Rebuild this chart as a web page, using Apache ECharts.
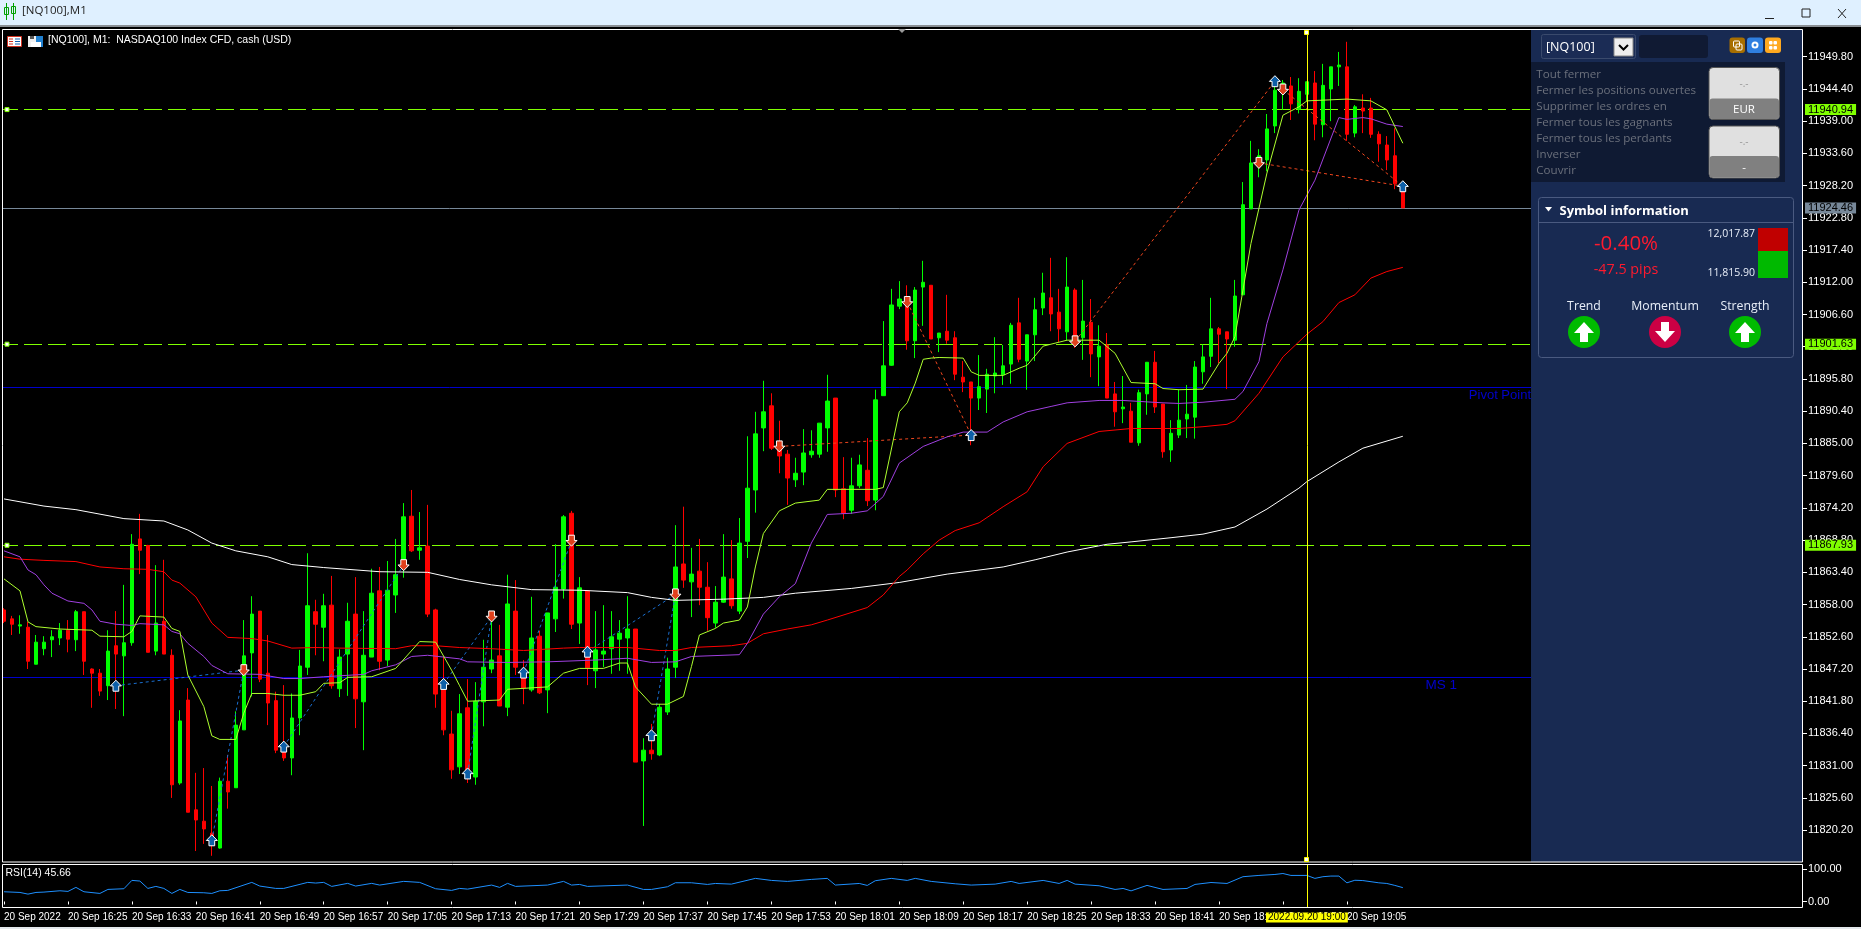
<!DOCTYPE html>
<html>
<head>
<meta charset="utf-8">
<style>html,body{margin:0;padding:0;background:#000;overflow:hidden}#c{width:1861px;height:929px}</style>
<script src="https://cdn.jsdelivr.net/npm/echarts@6/dist/echarts.min.js"></script>
</head>
<body>
<div id="c"></div>
<script>
const tickLabels = ['20 Sep 2022','20 Sep 16:25','20 Sep 16:33','20 Sep 16:41','20 Sep 16:49','20 Sep 16:57','20 Sep 17:05','20 Sep 17:13','20 Sep 17:21','20 Sep 17:29','20 Sep 17:37','20 Sep 17:45','20 Sep 17:53','20 Sep 18:01','20 Sep 18:09','20 Sep 18:17','20 Sep 18:25','20 Sep 18:33','20 Sep 18:41','20 Sep 18:49','20 Sep 18:57','20 Sep 19:05'];
const priceTicks = [11949.8,11944.4,11939.0,11933.6,11928.2,11922.8,11917.4,11912.0,11906.6,11901.2,11895.8,11890.4,11885.0,11879.6,11874.2,11868.8,11863.4,11858.0,11852.6,11847.2,11841.8,11836.4,11831.0,11825.6,11820.2];
const rsiTicks = [0,100];

const opens = [11857.1,11855.6,11854.4,11854.2,11848.0,11850.6,11852.1,11852.4,11853.7,11852.1,
11856.8,11847.2,11846.5,11844.4,11851.1,11849.4,11851.6,11869.0,11867.9,11850.2,
11855.2,11849.5,11828.1,11842.0,11823.6,11821.7,11819.7,11817.2,11828.4,11827.3,
11837.0,11849.9,11856.9,11846.5,11841.9,11833.6,11832.3,11839.0,11847.5,11856.8,
11854.2,11857.9,11843.9,11849.7,11856.4,11841.7,11849.2,11860.3,11848.7,11859.6,
11864.6,11872.8,11867.1,11867.8,11857.1,11843.7,11836.3,11830.8,11840.7,11829.1,
11841.7,11847.2,11849.4,11840.8,11856.9,11847.0,11843.7,11852.7,11843.7,11855.6,
11860.6,11873.3,11854.9,11860.3,11846.9,11849.7,11850.6,11852.2,11852.4,11853.9,
11831.8,11833.6,11832.8,11840.0,11847.5,11864.8,11861.8,11863.6,11860.9,11854.9,
11858.4,11862.3,11856.9,11868.6,11877.2,11887.6,11891.3,11884.7,11883.2,11878.9,
11880.2,11883.1,11883.2,11887.6,11892.6,11877.4,11873.8,11877.9,11880.5,11875.5,
11893.0,11898.1,11908.0,11909.1,11902.2,11911.2,11911.5,11902.7,11903.8,11902.7,
11896.1,11895.3,11892.6,11894.1,11896.3,11896.5,11898.3,11905.2,11898.8,11903.2,
11907.7,11909.4,11907.0,11903.7,11910.7,11902.7,11905.3,11899.5,11901.5,11893.3,
11890.8,11890.4,11885.1,11893.3,11898.6,11891.6,11883.9,11886.4,11889.1,11889.4,
11897.0,11899.6,11904.2,11903.7,11902.3,11909.9,11924.3,11931.6,11932.5,11938.2,
11943.7,11944.9,11941.0,11943.5,11945.4,11938.4,11944.4,11948.1,11948.1,11937.0,
11941.2,11941.2,11936.8,11935.0,11933.2,11927.6];
const closes = [11855.2,11854.7,11854.6,11848.5,11851.7,11851.7,11852.6,11853.7,11852.2,11856.8,
11848.5,11846.5,11843.5,11850.2,11849.7,11851.6,11868.1,11867.1,11850.0,11854.9,
11849.7,11827.8,11838.5,11823.2,11821.9,11820.4,11817.7,11828.4,11826.6,11837.8,
11849.4,11856.4,11845.5,11841.5,11833.6,11832.3,11839.0,11847.7,11857.8,11854.7,
11857.8,11844.4,11849.2,11855.2,11842.2,11849.5,11859.9,11848.5,11860.4,11863.0,
11872.7,11867.0,11867.5,11856.4,11843.0,11837.0,11830.3,11839.7,11829.4,11841.8,
11847.5,11848.7,11841.0,11858.1,11847.5,11844.0,11852.4,11843.2,11856.6,11860.9,
11872.7,11854.7,11860.8,11847.4,11850.4,11850.2,11852.6,11853.2,11853.9,11831.6,
11833.6,11833.0,11840.8,11847.2,11864.3,11862.1,11863.1,11860.9,11855.8,11858.4,
11862.6,11857.8,11868.3,11877.5,11886.6,11890.3,11884.2,11882.9,11879.2,11880.0,
11883.4,11883.7,11888.4,11892.1,11877.2,11873.3,11877.9,11881.4,11875.4,11892.3,
11898.0,11908.2,11909.2,11902.2,11910.7,11912.0,11902.5,11903.5,11902.3,11896.6,
11895.3,11892.6,11894.5,11896.6,11896.8,11898.0,11904.8,11899.1,11903.2,11907.4,
11910.2,11906.7,11904.2,11911.2,11902.8,11905.5,11900.0,11901.3,11892.6,11890.3,
11891.1,11885.2,11893.5,11898.6,11891.1,11883.6,11886.7,11888.9,11889.9,11897.8,
11899.5,11904.2,11903.3,11902.5,11909.7,11925.0,11932.0,11933.2,11937.7,11944.2,
11945.4,11941.9,11944.0,11945.6,11938.5,11945.0,11948.1,11948.4,11936.8,11941.4,
11940.7,11936.8,11935.2,11932.5,11928.5,11924.46];
const highs = [11857.4,11856.1,11856.2,11855.1,11852.9,11852.7,11853.7,11854.9,11855.4,11857.1,
11856.8,11847.3,11847.2,11853.7,11856.9,11861.3,11869.8,11873.2,11868.0,11864.6,
11865.5,11850.5,11840.3,11844.0,11829.8,11830.6,11827.6,11829.0,11832.8,11840.1,
11855.4,11859.4,11856.9,11852.9,11843.4,11844.5,11843.1,11850.4,11866.6,11858.8,
11859.8,11862.8,11850.5,11858.3,11862.6,11856.9,11864.0,11864.3,11865.3,11869.0,
11875.0,11877.2,11873.5,11874.7,11857.3,11849.3,11840.2,11843.0,11845.5,11845.0,
11852.1,11856.2,11854.6,11863.0,11862.1,11848.7,11859.3,11853.6,11856.6,11868.1,
11873.0,11873.7,11862.6,11860.4,11856.9,11857.9,11856.9,11855.4,11859.4,11853.9,
11835.6,11838.0,11841.3,11849.1,11871.3,11874.4,11867.5,11869.0,11865.1,11861.1,
11869.8,11868.8,11872.5,11886.2,11890.3,11895.5,11893.4,11888.8,11883.9,11882.6,
11887.4,11887.2,11888.4,11896.5,11892.6,11882.7,11882.6,11883.1,11885.9,11894.0,
11905.5,11910.9,11912.2,11911.5,11911.2,11915.6,11911.5,11903.5,11909.9,11903.8,
11898.8,11895.3,11899.8,11897.5,11902.8,11901.5,11905.2,11909.4,11903.2,11909.4,
11913.6,11916.1,11910.9,11916.2,11911.0,11912.4,11909.2,11904.8,11903.5,11895.3,
11896.3,11891.8,11894.0,11898.6,11900.5,11891.6,11888.9,11894.0,11894.8,11898.8,
11901.6,11909.4,11904.5,11903.7,11912.4,11928.8,11935.7,11934.3,11940.2,11945.9,
11945.9,11946.4,11946.2,11945.6,11947.4,11948.6,11948.1,11950.6,11952.3,11941.7,
11943.5,11942.9,11937.3,11936.5,11937.8,11928.6];
const lows = [11854.9,11852.9,11853.1,11847.2,11848.0,11849.5,11849.2,11851.2,11850.0,11850.2,
11846.2,11840.7,11842.7,11842.0,11840.5,11839.3,11851.1,11863.1,11850.0,11849.5,
11849.7,11825.6,11827.8,11823.2,11816.7,11817.9,11815.9,11817.1,11823.8,11827.3,
11837.0,11842.6,11845.0,11837.8,11833.1,11831.8,11829.4,11836.1,11846.2,11849.5,
11848.5,11843.9,11842.5,11842.7,11837.3,11833.6,11849.2,11847.0,11847.7,11856.6,
11862.5,11866.8,11865.5,11855.9,11840.7,11836.1,11828.8,11829.6,11828.1,11827.8,
11837.6,11846.5,11841.0,11839.3,11846.2,11841.3,11843.4,11843.0,11839.8,11853.4,
11859.0,11853.9,11851.4,11844.5,11844.0,11847.5,11846.4,11846.9,11846.4,11831.6,
11820.9,11832.0,11832.6,11839.5,11845.7,11860.8,11855.9,11857.9,11853.6,11854.1,
11858.3,11857.3,11856.4,11865.8,11873.4,11883.7,11883.9,11880.0,11874.7,11877.7,
11878.0,11882.6,11882.6,11883.6,11876.0,11872.3,11873.2,11877.5,11874.5,11873.8,
11893.0,11898.0,11907.5,11900.7,11899.3,11904.7,11902.5,11900.3,11901.7,11895.6,
11893.6,11884.7,11890.6,11890.1,11893.4,11894.8,11895.0,11898.6,11894.0,11898.8,
11906.5,11903.8,11902.0,11902.3,11901.0,11899.0,11896.1,11894.6,11892.6,11887.8,
11888.4,11885.2,11884.6,11889.8,11890.1,11882.6,11881.9,11885.9,11885.9,11885.8,
11895.0,11897.8,11898.4,11894.1,11901.2,11909.9,11924.3,11929.6,11930.6,11937.0,
11940.9,11939.2,11940.3,11942.3,11935.8,11936.3,11939.0,11944.9,11935.7,11936.3,
11937.0,11936.2,11932.2,11930.8,11927.6,11924.46];

const whiteMA = [[0,11875.7],[5,11874.5],[9,11873.9],[15,11872.4],[20,11872.0],[23,11870.5],[26,11868.3],[29,11867.0],[33,11866.0],[36,11864.7],[40,11864.2],[47,11863.5],[53,11863.4],[57,11862.2],[61,11861.3],[66,11860.5],[72,11860.4],[78,11860.0],[81,11859.2],[84,11858.7],[90,11858.9],[95,11859.2],[99,11859.9],[106,11860.7],[112,11861.7],[118,11863.1],[125,11864.3],[129,11865.5],[133,11866.8],[138,11868.1],[141,11868.5],[146,11869.2],[150,11869.8],[154,11871.0],[158,11874.0],[162,11877.5],[163,11878.6],[167,11881.9],[170,11884.2],[175,11886.2]];
const redMA = [[0,11866.0],[2,11865.6],[5,11865.4],[9,11865.2],[12,11864.3],[15,11864.0],[18,11863.9],[20,11863.5],[21,11862.1],[22,11861.6],[24,11859.3],[26,11854.9],[28,11852.5],[31,11852.3],[33,11851.9],[36,11850.7],[39,11850.8],[42,11850.7],[49,11850.6],[51,11851.1],[54,11851.1],[57,11850.8],[61,11850.6],[65,11850.3],[70,11850.7],[72,11850.8],[78,11850.8],[82,11850.3],[84,11850.3],[86,11850.8],[91,11851.1],[93,11851.5],[95,11853.1],[98,11853.9],[101,11854.6],[103,11855.4],[108,11857.5],[110,11859.6],[112,11862.7],[113,11863.8],[115,11866.5],[117,11868.8],[119,11870.4],[122,11871.7],[125,11874.4],[128,11876.9],[130,11881.1],[133,11885.0],[137,11887.0],[141,11887.5],[147,11887.5],[150,11887.8],[153,11888.2],[154,11888.8],[157,11893.4],[160,11899.5],[163,11903.3],[165,11905.4],[167,11908.6],[169,11909.9],[171,11912.7],[173,11913.8],[175,11914.5]];
const purpleMA = [[0,11867.0],[2,11866.0],[3,11863.8],[4,11863.0],[5,11861.3],[6,11859.9],[8,11858.6],[10,11858.2],[11,11857.1],[12,11855.2],[14,11854.7],[16,11854.5],[17,11854.8],[20,11854.6],[21,11853.5],[22,11853.1],[23,11851.5],[25,11849.3],[26,11847.8],[28,11846.4],[32,11846.3],[35,11845.6],[37,11845.6],[40,11845.9],[45,11846.3],[46,11846.9],[49,11847.9],[51,11849.3],[53,11849.5],[57,11848.9],[58,11848.4],[63,11848.3],[68,11848.4],[74,11848.7],[78,11849.0],[81,11848.3],[84,11848.4],[86,11849.3],[92,11849.6],[93,11851.5],[95,11856.4],[97,11859.3],[99,11861.5],[101,11868.3],[103,11873.1],[106,11873.3],[108,11873.7],[110,11876.1],[112,11881.7],[115,11884.5],[118,11886.1],[120,11886.9],[123,11886.9],[125,11888.6],[128,11890.3],[131,11891.2],[133,11891.8],[137,11892.2],[140,11892.2],[145,11891.8],[147,11891.7],[150,11891.9],[154,11892.4],[155,11893.7],[157,11898.7],[158,11905.1],[160,11914.1],[162,11924.1],[164,11929.1],[167,11939.6],[168,11939.3],[170,11939.6],[171,11939.4],[173,11938.5],[175,11938.1]];
const limeMA = [[0,11862.3],[1,11861.3],[2,11860.3],[3,11855.1],[4,11854.3],[7,11853.9],[11,11853.7],[12,11852.7],[15,11852.6],[16,11853.5],[17,11856.1],[20,11855.9],[21,11854.0],[22,11853.5],[23,11846.2],[25,11840.9],[26,11836.0],[27,11835.4],[29,11835.4],[30,11839.8],[31,11843.1],[33,11843.1],[35,11842.8],[37,11842.8],[39,11843.4],[40,11844.8],[42,11844.9],[43,11845.8],[46,11845.9],[49,11847.3],[52,11851.8],[54,11851.7],[56,11847.0],[57,11844.4],[58,11841.8],[62,11842.0],[63,11843.8],[68,11844.2],[70,11846.5],[72,11847.3],[75,11847.3],[77,11848.2],[78,11848.2],[79,11844.2],[81,11841.3],[83,11841.3],[85,11842.6],[86,11847.6],[87,11852.9],[89,11854.0],[90,11854.9],[92,11855.4],[93,11857.6],[94,11864.3],[95,11869.9],[97,11873.7],[99,11875.0],[102,11875.5],[103,11877.3],[109,11877.3],[110,11877.6],[112,11890.3],[113,11891.8],[114,11895.1],[115,11899.1],[116,11899.3],[117,11899.4],[120,11899.3],[121,11897.0],[122,11896.4],[125,11896.4],[127,11897.6],[128,11898.1],[130,11901.3],[133,11902.3],[137,11902.3],[139,11900.1],[141,11895.2],[144,11895.0],[145,11894.2],[147,11894.0],[150,11894.1],[152,11898.4],[153,11900.1],[154,11902.9],[156,11918.5],[158,11930.3],[160,11940.0],[162,11941.4],[163,11942.4],[168,11942.7],[171,11942.4],[173,11940.9],[175,11935.3]];
const rsiValues = [[0,30.2],[2,28.1],[3,22.9],[4,28.1],[5,29.2],[7,33.3],[8,31.3],[9,43.8],[10,30.2],[12,25],[13,37.5],[15,39.6],[16,65.6],[17,63.5],[18,40.6],[19,46.9],[20,40.6],[21,25],[22,37.5],[23,28.1],[25,27.1],[26,25],[27,33.3],[28,34.4],[31,59.4],[32,47.9],[34,40.6],[35,40.6],[38,59.4],[39,57.3],[40,59.4],[41,46.9],[43,56.3],[44,47.9],[46,56.3],[47,51],[50,62.5],[52,59.4],[54,39.6],[56,34.4],[57,40.6],[58,38.5],[61,51],[62,43.8],[63,56.3],[64,46.9],[68,51],[70,62.5],[71,51],[72,53],[73,46.9],[78,51],[80,37.4],[81,37.4],[83,45.7],[84,58.2],[86,58.2],[88,53],[89,56],[91,54],[94,71.8],[96,65.5],[98,62.4],[101,68.6],[103,71.8],[104,51],[107,56],[108,49.9],[109,64.5],[111,71.8],[113,65.5],[114,71.8],[116,62.4],[119,55],[121,51],[124,54],[126,62.4],[127,56],[130,65.5],[132,56],[133,65.5],[134,54],[137,48.9],[139,37.4],[140,40.5],[141,33],[143,50],[145,37.4],[148,40.5],[149,53],[151,59],[153,56],[155,77],[157,81],[159,84],[160,87],[161,81],[163,81],[164,71.8],[165,77],[166,79],[167,79],[168,58],[169,66],[170,65],[172,58],[173,56],[174,50],[175,43]];

const buyMarks = [[14,11844.4],[26,11818.5],[35,11834.2],[55,11844.7],[58,11829.7],[65,11846.6],[73,11850.1],[81,11836.1],[121,11886.4],[159,11945.7],[175,11928.1]];
const sellMarks = [[30,11847.0],[50,11864.6],[61,11856.0],[71,11868.7],[84,11859.7],[97,11884.5],[113,11908.7],[134,11902.1],[157,11932.0],[160,11944.3]];
const blueTrades = [[14,30],[26,30],[35,50],[55,61],[58,61],[65,71],[73,84],[81,84]];
const orangeTrades = [[97,121],[113,121],[134,159],[157,175],[160,175]];

const dashedLevels = [11940.94,11901.63,11867.93];
const closeLevel = 11924.46;
const pivotLevels = [11894.4,11845.8];
const crossIndex = 163;
const crossLabel = '2022.09.20 19:00';
const candleCount = 225;

const categories = Array.from({length:candleCount},(_,i)=> i%8===0 && i/8<tickLabels.length ? tickLabels[i/8] : '');
const candleData = opens.map((o,i)=>[o,closes[i],lows[i],highs[i]]);
const priceOf = {};
buyMarks.concat(sellMarks).forEach(m=>{priceOf[m[0]]=m[1];});

const AXF = '"Liberation Sans Narrow","Liberation Sans",sans-serif';
const UI = '"Open Sans",sans-serif';
const LIME = '#7fff00', GREYTAG = '#778899', PANEL = '#182a52', DARK = '#0f1a33';
const tagLabel = (bg)=>({show:true,position:'end',distance:6.5,backgroundColor:bg,color:'#000',fontFamily:AXF,fontSize:11,padding:[0,3,0,3],lineHeight:11,formatter:p=>p.value.toFixed(2)});

const maLine = (name,data,color)=>({name,type:'line',data,xAxisIndex:0,yAxisIndex:0,symbol:'none',z:4,silent:true,lineStyle:{color,width:1},connectNulls:true});
const tradeLine = (pair,color)=>({type:'line',xAxisIndex:0,yAxisIndex:0,symbol:'none',z:3,silent:true,data:[[pair[0],priceOf[pair[0]]],[pair[1],priceOf[pair[1]]]],lineStyle:{color,width:1,type:[3,3]}});

const UP = 'path://M5 0L10 5.2L7.6 5.2L7.6 10L2.4 10L2.4 5.2L0 5.2Z';
const DOWN = 'path://M5 10L10 4.8L7.6 4.8L7.6 0L2.4 0L2.4 4.8L0 4.8Z';

const series = [
 {name:'levels',type:'line',xAxisIndex:0,yAxisIndex:0,data:[],z:1,silent:true,markLine:{silent:true,symbol:'none',z:1,animation:false,data:[
   ...dashedLevels.map(v=>({yAxis:v,lineStyle:{color:LIME,width:1,type:[18,6]},label:tagLabel(LIME)})),
   {yAxis:closeLevel,lineStyle:{color:GREYTAG,width:1,type:'solid'},label:tagLabel(GREYTAG)},
   ...pivotLevels.map(v=>({yAxis:v,lineStyle:{color:'#0000cc',width:1,type:'solid'},label:{show:false}}))
 ]}},
 {name:'[NQ100]',type:'candlestick',xAxisIndex:0,yAxisIndex:0,data:candleData,barWidth:4,z:2,silent:true,
  itemStyle:{color:'#00ff00',color0:'#ff0000',borderColor:'#00ff00',borderColor0:'#ff0000',borderWidth:1}},
 maLine('white',whiteMA,'#ffffff'),
 maLine('red',redMA,'#ff0000'),
 maLine('purple',purpleMA,'#a040e0'),
 maLine('lime',limeMA,'#adff2f'),
 ...blueTrades.map(p=>tradeLine(p,'#1a6fd0')),
 ...orangeTrades.map(p=>tradeLine(p,'#f0461e')),
 {name:'cross',type:'line',xAxisIndex:0,yAxisIndex:0,data:[],z:5,silent:true,markLine:{silent:true,symbol:'none',z:5,animation:false,data:[{xAxis:crossIndex,lineStyle:{color:'#ffff00',width:1,type:'solid'},label:{show:false}}]}},
 {name:'buy',type:'scatter',xAxisIndex:0,yAxisIndex:0,data:buyMarks,symbol:UP,symbolSize:[11,11],z:6,silent:true,itemStyle:{color:'#0d5fa8',borderColor:'#fff',borderWidth:1,opacity:1}},
 {name:'sell',type:'scatter',xAxisIndex:0,yAxisIndex:0,data:sellMarks,symbol:DOWN,symbolSize:[11,11],z:6,silent:true,itemStyle:{color:'#e0401c',borderColor:'#fff',borderWidth:1,opacity:1}},
 {name:'handles',type:'scatter',xAxisIndex:0,yAxisIndex:0,clip:false,data:dashedLevels.map(v=>[0,v]),symbol:'rect',symbolSize:4,symbolOffset:[3,0],z:6,silent:true,itemStyle:{color:'#fff',borderColor:LIME,borderWidth:1,opacity:1}},
 {name:'RSI',type:'line',xAxisIndex:1,yAxisIndex:1,data:rsiValues,symbol:'none',z:3,silent:true,lineStyle:{color:'#1e90ff',width:1},
  markLine:{silent:true,symbol:'none',z:6,animation:false,data:[{xAxis:crossIndex,lineStyle:{color:'#ffff00',width:1,type:'solid'},
   label:{show:true,position:'start',distance:5,formatter:crossLabel,backgroundColor:'#ffff00',color:'#000',fontFamily:AXF,fontSize:10,padding:[0,2,0,2],lineHeight:10}}]}}
];

const T=(text,x,y,fill,font,align)=>({type:'text',z:70,silent:true,style:{text,x,y,fill,font,textAlign:align||'left',textVerticalAlign:'middle'}});
const R=(x,y,w,h,fill,r,stroke)=>({type:'rect',z:52,silent:true,shape:{x,y,width:w,height:h,r:r||0},style:{fill,stroke:stroke||null,lineWidth:stroke?1:0}});
const P=(points,fill)=>({type:'polygon',z:72,silent:true,shape:{points},style:{fill}});
const arrowUp=(c,y)=>[[c,y-10],[c+10,y+1],[c+4,y+1],[c+4,y+10],[c-4,y+10],[c-4,y+1],[c-10,y+1]];
const arrowDown=(c,y)=>[[c,y+10],[c+10,y-1],[c+4,y-1],[c+4,y-10],[c-4,y-10],[c-4,y-1],[c-10,y-1]];
const circle=(cx,cy,r,fill)=>({type:'circle',z:60,silent:true,shape:{cx,cy,r},style:{fill}});

const graphic = [
 R(0,0,1861,25,'#dff0ff'),R(0,25,1861,2,'#8a8f94'),R(0,927,1861,2,'#e4e8ec'),
 R(0,29,2,880,'#000'),
 R(1531,30,271.5,832,PANEL),
 R(2.5,29.5,1800,832.5,null,0,'#ffffff'),
 R(2.5,864.5,1800,43,null,0,'#ffffff'),
 P([[898,29],[906,29],[902,33]],'#9a9a9a'),
 R(1304.5,30.5,4,4,'#fff',0,'#ffff00'),R(1304.5,857.5,4,4,'#fff',0,'#ffff00'),
 // window chrome
 R(4.5,7.5,4,7,null,0,'#00a000'),R(11.5,6.5,4,7,null,0,'#00a000'),R(6,3,1,17,'#00a000'),R(13,3,1,17,'#00a000'),
 T('[NQ100],M1',22,11,'#222',"11.5px "+UI),
 R(1765,18,9,1,'#222'),
 R(1802,9,8,8,null,0,'#222'),
 {type:'polyline',z:70,silent:true,shape:{points:[[1838,9],[1846,18]]},style:{stroke:'#222',lineWidth:1}},
 {type:'polyline',z:70,silent:true,shape:{points:[[1846,9],[1838,18]]},style:{stroke:'#222',lineWidth:1}},
 // chart caption
 R(7.5,36.5,14,10,'#fff',0,'#d03020'),R(9,38.5,4,1,'#d03020'),R(9,41,4,1,'#d03020'),R(9,43.5,4,1,'#d03020'),R(15,38.5,5,1,'#1060b0'),R(15,41,5,1,'#1060b0'),R(15,43.5,5,1,'#1060b0'),
 R(28,36,8,11,'#f0f0f0'),R(36,36,7,11,'#2080d0'),R(30,36,4,3,'#555'),R(31,42,10,5,'#fff'),
 T('[NQ100], M1:  NASDAQ100 Index CFD, cash (USD)',48,40.5,'#fff',"10.5px "+AXF),
 T('RSI(14) 45.66',5.5,873,'#fff',"10.5px "+AXF),
 T('Pivot Point',1531,395,'#0000cc',"13px 'Liberation Sans'",'right'),
 T('MS 1',1457,685,'#0000cc',"13.5px 'Liberation Sans'",'right'),
 // panel header
 R(1541.5,34.5,94,24,'#1b2c55',2,'#3a4a6c'),
 T('[NQ100]',1546,47,'#fff',"12.5px "+UI),
 R(1614,38,19,18,'#eeeeee',0,'#888'),
 {type:'polyline',z:72,silent:true,shape:{points:[[1619,45],[1623.5,49.5],[1628,45]]},style:{stroke:'#000',lineWidth:2,fill:null}},
 R(1639,35,69,23,'#101a33',3),
 R(1729.5,37.5,15.5,15.5,'#a86f00',3),R(1747,37.5,16,15.5,'#2f7fe0',3),R(1765,37.5,16,15.5,'#ffa91f',3),
 R(1733.5,41,6,6,null,1,'#fff'),R(1736,44,6,6,null,1,'#fff'),
 circle(1755,45,3.5,'#fff'),circle(1755,45,1.5,'#2f7fe0'),
 R(1769,41,3.5,3.5,'#fff',1),R(1773.5,41,3.5,3.5,'#fff',1),R(1769,46,3.5,3.5,'#fff',1),R(1773.5,46,3.5,3.5,'#fff',1),
 // actions
 R(1531,62,254,120,DARK),
 ...['Tout fermer','Fermer les positions ouvertes','Supprimer les ordres en','Fermer tous les gagnants','Fermer tous les perdants','Inverser','Couvrir'].map((s,i)=>T(s,1536.3,75+16*i,'#6b707c',"11.6px "+UI)),
 R(1709,67.5,70.5,52,'#e0e0e0',4,'#555'),R(1709.5,98.5,69.5,20.5,'#808080',3),
 T('-.-',1744,84,'#999',"10px "+UI,'center'),T('EUR',1744,109.5,'#fff',"11.5px "+UI,'center'),
 R(1709,126,70.5,52,'#e0e0e0',4,'#555'),R(1709.5,156,69.5,21.5,'#808080',3),
 T('-.-',1744,142,'#999',"10px "+UI,'center'),T('-',1744,167.5,'#fff',"11.5px "+UI,'center'),
 // symbol info
 R(1538.5,197.5,255,160,null,3,'#4a5a80'),R(1539,222,254,1,'#4a5a80'),
 P([[1545,207],[1552,207],[1548.5,211.5]],'#fff'),
 T('Symbol information',1559.5,211.5,'#fff',"bold 13px "+UI),
 T('-0.40%',1626,244,'#ff1a2e',"20.5px "+UI,'center'),
 T('-47.5 pips',1626,270,'#ff1a2e',"14.3px "+UI,'center'),
 T('12,017.87',1755,234.5,'#e8eef8',"10.5px "+UI,'right'),
 T('11,815.90',1755,273.5,'#e8eef8',"10.5px "+UI,'right'),
 R(1758,228,30,23,'#c00000'),R(1758,251,30,27,'#00b900'),
 T('Trend',1584,306,'#e8eef8',"12.3px "+UI,'center'),
 T('Momentum',1665,306,'#e8eef8',"12.3px "+UI,'center'),
 T('Strength',1745,306,'#e8eef8',"12.3px "+UI,'center'),
 circle(1584,332,16,'#00bb00'),circle(1665,332,16,'#cc0044'),circle(1745,332,16,'#00bb00'),
 P(arrowUp(1584,332),'#fff'),P(arrowDown(1665,332),'#fff'),P(arrowUp(1745,332),'#fff')
];

const chart = echarts.init(document.getElementById('c'),null,{renderer:'canvas'});
chart.setOption({
 animation:false,
 backgroundColor:'#000',
 grid:[{left:-1.5,top:29.5,width:1800,height:832.5,show:false},{left:-1.5,top:864.5,width:1800,height:43,show:false}],
 xAxis:[
  {type:'category',gridIndex:0,data:categories,boundaryGap:true,show:false},
  {type:'category',gridIndex:1,data:categories,boundaryGap:true,position:'bottom',
   axisLine:{show:false},axisTick:{show:true,alignWithLabel:true,length:3,interval:i=>i%8===0&&i<=168,lineStyle:{color:'#fff'}},
   axisLabel:{show:true,interval:i=>i%8===0&&i<=168,align:'left',margin:5,color:'#fff',fontFamily:AXF,fontSize:10,hideOverlap:false,formatter:v=>v},
   splitLine:{show:false}}
 ],
 yAxis:[
  {type:'value',gridIndex:0,position:'right',offset:4.5,min:11814.86,max:11954.36,scale:true,
   axisLine:{show:false},splitLine:{show:false},
   axisTick:{show:true,length:4,customValues:priceTicks,lineStyle:{color:'#fff'}},
   axisLabel:{show:true,margin:5,padding:[1,0,0,0],color:'#fff',fontFamily:AXF,fontSize:11,customValues:priceTicks,formatter:v=>v.toFixed(2)}},
  {type:'value',gridIndex:1,position:'right',offset:4.5,min:-18.75,max:115,scale:true,
   axisLine:{show:false},splitLine:{show:false},
   axisTick:{show:true,length:4,customValues:rsiTicks,lineStyle:{color:'#fff'}},
   axisLabel:{show:true,margin:5,padding:[1,0,0,0],color:'#fff',fontFamily:AXF,fontSize:11,customValues:rsiTicks,formatter:v=>v.toFixed(2)}}
 ],
 series,
 graphic:{elements:graphic}
});
</script>
</body>
</html>
